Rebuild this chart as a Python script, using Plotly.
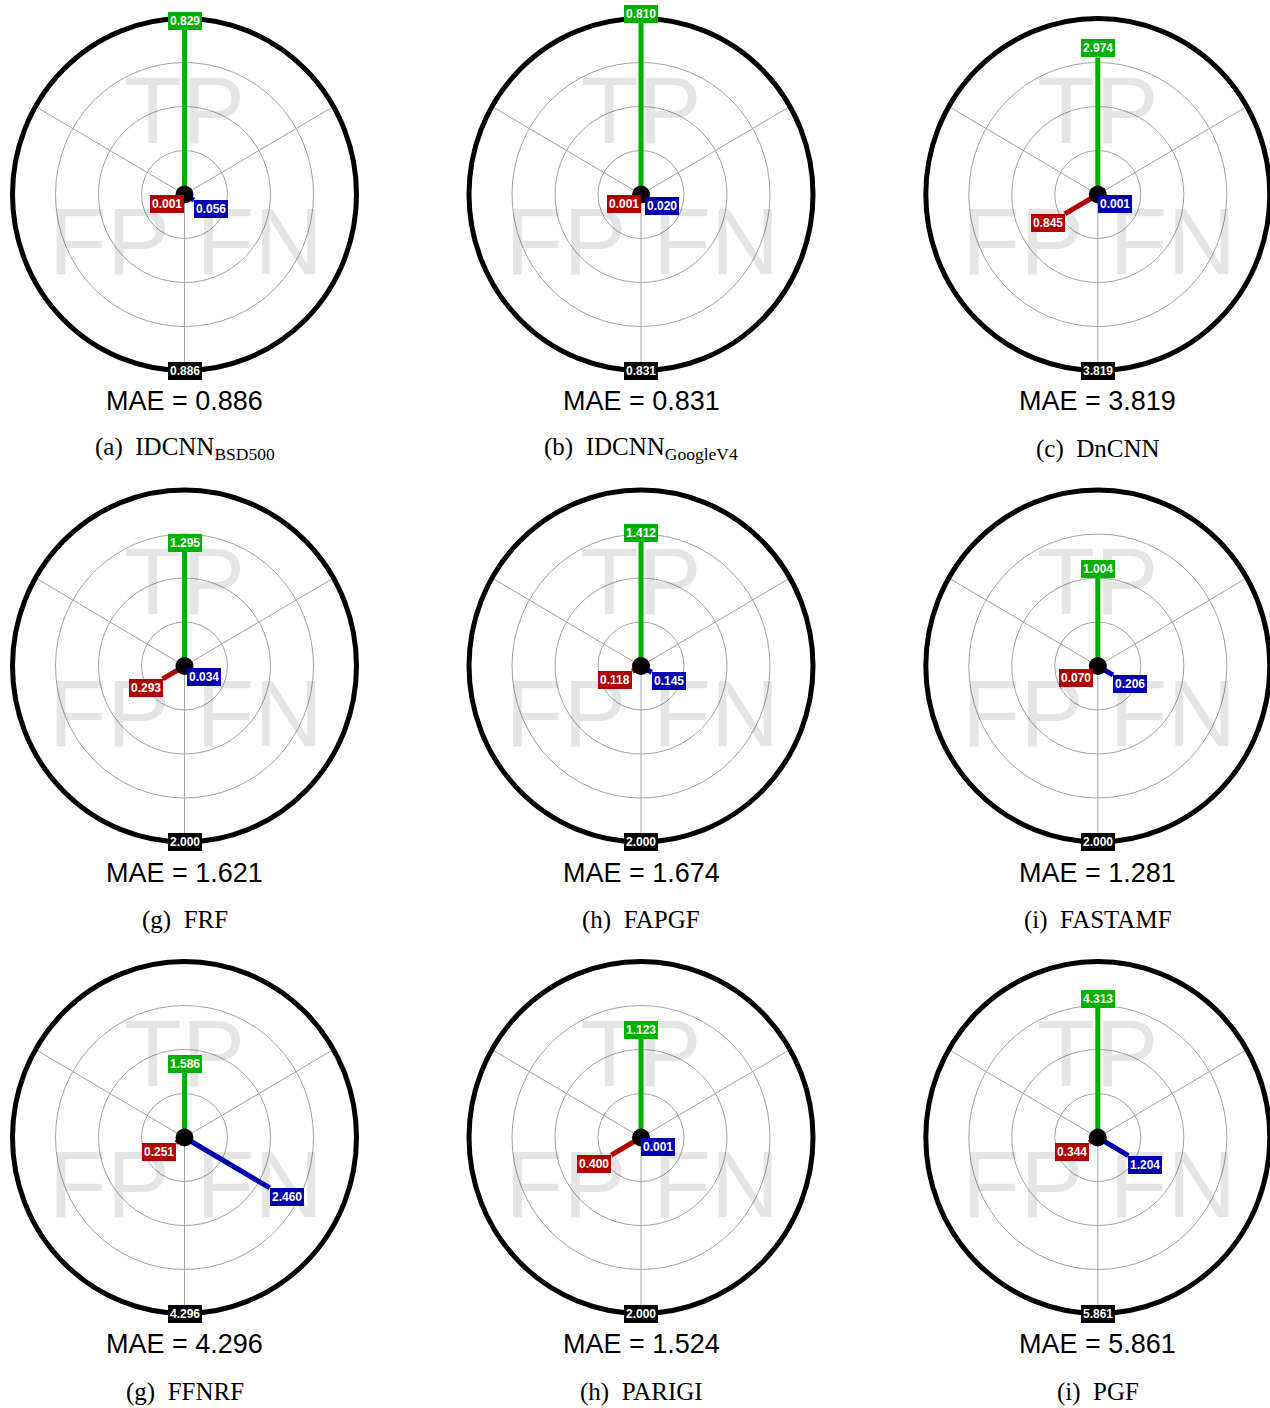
import math
import plotly.graph_objects as go

# ---------------- data ----------------
letters = ["(a)", "(b)", "(c)", "(g)", "(h)", "(i)", "(g)", "(h)", "(i)"]
methods = ["IDCNN<sub>BSD500</sub>", "IDCNN<sub>GoogleV4</sub>", "DnCNN",
           "FRF", "FAPGF", "FASTAMF", "FFNRF", "PARIGI", "PGF"]
tp = [0.829, 0.810, 2.974, 1.295, 1.412, 1.004, 1.586, 1.123, 4.313]
fp = [0.001, 0.001, 0.845, 0.293, 0.118, 0.070, 0.251, 0.400, 0.344]
fn = [0.056, 0.020, 0.001, 0.034, 0.145, 0.206, 2.460, 0.001, 1.204]
mae = [0.886, 0.831, 3.819, 1.621, 1.674, 1.281, 4.296, 1.524, 5.861]
scale_max = [0.886, 0.831, 3.819, 2.000, 2.000, 2.000, 4.296, 2.000, 5.861]

angles = {"TP": 90, "FP": 210, "FN": 330}
colors = {"TP": "#00b000", "FP": "#b00000", "FN": "#0000b0"}
spoke_angles = [30, 150, 270]
ring_fracs = [0.25, 0.5, 0.75]

# ---------------- layout geometry (pixels) ----------------
W, H = 1270, 1408
col_cx = [184.5, 641.0, 1097.8]
row_cy = [194.5, 666.0, 1137.5]
RX, RY = 172.0, 176.0
HALF = 188.0

fig = go.Figure()
shapes = []
annotations = []

for i in range(9):
    r, c = divmod(i, 3)
    cx, cy = col_cx[c], row_cy[r]
    M = scale_max[i]
    L = max(0.0, cx - HALF)
    Rr = min(W, cx + HALF)
    T = max(0.0, cy - HALF)
    B = min(H, cy + HALF)
    n = "" if i == 0 else str(i + 1)
    xa, ya = "x" + n, "y" + n
    fig.layout["xaxis" + n] = dict(domain=[L / W, Rr / W],
                                  range=[(L - cx) / RX * M, (Rr - cx) / RX * M],
                                  visible=False, fixedrange=True)
    fig.layout["yaxis" + n] = dict(domain=[1 - B / H, 1 - T / H],
                                  range=[-(B - cy) / RY * M, (cy - T) / RY * M],
                                  visible=False, fixedrange=True)

    # rings and spokes
    for f in ring_fracs:
        shapes.append(dict(type="circle", xref=xa, yref=ya, x0=-f * M, x1=f * M,
                           y0=-f * M, y1=f * M, line=dict(color="#a3a3a3", width=1),
                           layer="below"))
    for a in spoke_angles:
        t = math.radians(a)
        shapes.append(dict(type="line", xref=xa, yref=ya, x0=0, y0=0,
                           x1=M * math.cos(t), y1=M * math.sin(t),
                           line=dict(color="#a3a3a3", width=1), layer="below"))
    shapes.append(dict(type="circle", xref=xa, yref=ya, x0=-M, x1=M, y0=-M, y1=M,
                       line=dict(color="black", width=5), layer="below"))

    # watermark letters
    fig.add_trace(go.Scatter(
        x=[0, -0.436 * M, 0.436 * M], y=[0.43 * M, -0.318 * M, -0.318 * M],
        mode="text", text=["TP", "FP", "FN"], textposition="middle center",
        textfont=dict(family="Liberation Sans, Arial, sans-serif", size=95,
                      color="rgba(0,0,0,0.10)"),
        xaxis=xa, yaxis=ya, hoverinfo="skip", showlegend=False))

    vals = {"TP": tp[i], "FP": fp[i], "FN": fn[i]}
    for k in ["FP", "FN", "TP"]:
        t = math.radians(angles[k])
        ex, ey = vals[k] * math.cos(t), vals[k] * math.sin(t)
        fig.add_trace(go.Scatter(x=[0, ex], y=[0, ey], mode="lines",
                                 line=dict(color=colors[k], width=5),
                                 xaxis=xa, yaxis=ya, hoverinfo="skip",
                                 showlegend=False))
        if k == "TP":
            xan, yan = "center", "bottom"
        elif k == "FP":
            xan, yan = "right", "top"
        else:
            xan, yan = "left", "top"
        annotations.append(dict(x=ex, y=ey, xref=xa, yref=ya, showarrow=False,
                                text="<b>%.3f</b>" % vals[k], xanchor=xan, yanchor=yan,
                                bgcolor=colors[k], bordercolor=colors[k],
                                borderwidth=1, borderpad=1,
                                font=dict(family="Liberation Sans, Arial", size=12,
                                          color="white")))
    # center dot
    fig.add_trace(go.Scatter(x=[0], y=[0], mode="markers",
                             marker=dict(color="black", size=18),
                             xaxis=xa, yaxis=ya, hoverinfo="skip", showlegend=False))
    # bottom max label
    annotations.append(dict(x=0, y=-M, xref=xa, yref=ya, showarrow=False,
                            text="<b>%.3f</b>" % M, xanchor="center", yanchor="middle",
                            bgcolor="black", bordercolor="black", borderwidth=1,
                            borderpad=1,
                            font=dict(family="Liberation Sans, Arial", size=12,
                                      color="white")))
    # MAE text
    annotations.append(dict(x=cx / W, y=1 - (cy + 206.5) / H, xref="paper", yref="paper",
                            showarrow=False, text="MAE = %.3f" % mae[i],
                            xanchor="center", yanchor="middle",
                            font=dict(family="Liberation Sans, Arial", size=27,
                                      color="black")))
    # caption
    annotations.append(dict(x=cx / W, y=1 - (cy + 254) / H, xref="paper", yref="paper",
                            showarrow=False,
                            text=letters[i] + "\u00a0\u00a0" + methods[i],
                            xanchor="center", yanchor="middle",
                            font=dict(family="Liberation Serif, Times New Roman, serif",
                                      size=25, color="black")))

fig.update_layout(width=W, height=H, margin=dict(l=0, r=0, t=0, b=0),
                  paper_bgcolor="white", plot_bgcolor="rgba(0,0,0,0)",
                  shapes=shapes, annotations=annotations, showlegend=False)

fig.write_html("out.html", config={"displayModeBar": False},
               post_script="document.body.style.margin='0';")
